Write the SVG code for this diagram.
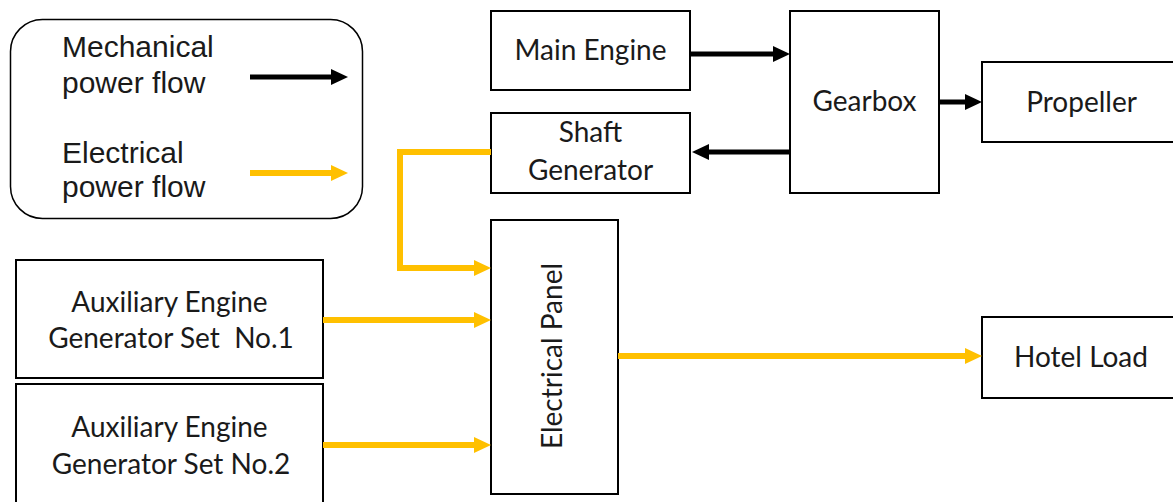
<svg xmlns="http://www.w3.org/2000/svg" width="1173" height="502" viewBox="0 0 1173 502">
  <style>
    .box { fill: #ffffff; stroke: #000000; stroke-width: 2; }
    .legend { fill: #ffffff; stroke: #000000; stroke-width: 1.5; }
    .lbl { font-family: Lato, "Liberation Sans", sans-serif; font-size: 28px; fill: #1a1a1a; text-anchor: middle; white-space: pre; }
    .leg { font-family: "Liberation Sans", Arial, sans-serif; font-size: 30px; fill: #1a1a1a; }
    .mech { fill: none; stroke: #000000; stroke-width: 5; }
    .elec { fill: none; stroke: #FFC000; stroke-width: 6; }
  </style>
  <defs>
    <marker id="headMech" markerUnits="userSpaceOnUse" markerWidth="18" markerHeight="18" refX="0" refY="8" orient="auto">
      <path d="M0,0 L17,8 L0,16 Z" fill="#000000"/>
    </marker>
    <marker id="headElec" markerUnits="userSpaceOnUse" markerWidth="18" markerHeight="18" refX="0" refY="8" orient="auto">
      <path d="M0,0 L17,8 L0,16 Z" fill="#FFC000"/>
    </marker>
  </defs>
  <rect width="1173" height="502" fill="#ffffff"/>

  <!-- legend -->
  <g id="legend">
    <rect class="legend" x="10.5" y="19.5" width="352" height="199" rx="32" ry="32"/>
    <text class="leg" x="62" y="57">Mechanical</text>
    <text class="leg" x="62" y="93">power flow</text>
    <text class="leg" x="62" y="163">Electrical</text>
    <text class="leg" x="62" y="197">power flow</text>
    <path class="mech" d="M250,77 H331" marker-end="url(#headMech)"/>
    <path class="elec" d="M250,173 H331" marker-end="url(#headElec)"/>
  </g>

  <!-- nodes -->
  <g id="main-engine">
    <rect class="box" x="491" y="11" width="199" height="79"/>
    <text class="lbl" x="590.5" y="60">Main Engine</text>
  </g>
  <g id="shaft-generator">
    <rect class="box" x="491" y="113" width="199" height="80"/>
    <text class="lbl" x="590.5" y="142">Shaft</text>
    <text class="lbl" x="590.5" y="180">Generator</text>
  </g>
  <g id="gearbox">
    <rect class="box" x="790" y="11" width="149" height="182"/>
    <text class="lbl" x="864.5" y="111">Gearbox</text>
  </g>
  <g id="propeller">
    <rect class="box" x="982" y="62" width="200" height="80"/>
    <text class="lbl" x="1081.5" y="112">Propeller</text>
  </g>
  <g id="electrical-panel">
    <rect class="box" x="491" y="220" width="127" height="274"/>
    <text class="lbl" transform="translate(562,356) rotate(-90)">Electrical Panel</text>
  </g>
  <g id="hotel-load">
    <rect class="box" x="982" y="317" width="200" height="81"/>
    <text class="lbl" x="1081" y="367">Hotel Load</text>
  </g>
  <g id="aux-gen-1">
    <rect class="box" x="16" y="260" width="307" height="118"/>
    <text class="lbl" x="169.5" y="312">Auxiliary Engine</text>
    <text class="lbl" x="171" y="348">Generator Set  No.1</text>
  </g>
  <g id="aux-gen-2">
    <rect class="box" x="16" y="384" width="307" height="130"/>
    <text class="lbl" x="169.5" y="437">Auxiliary Engine</text>
    <text class="lbl" x="171" y="474">Generator Set No.2</text>
  </g>

  <!-- connectors -->
  <g id="connectors">
    <path class="mech" d="M690,54 H773" marker-end="url(#headMech)"/>
    <path class="mech" d="M790,152 H709" marker-end="url(#headMech)"/>
    <path class="mech" d="M939,102 H965" marker-end="url(#headMech)"/>
    <path class="elec" d="M491,152 H400 V268 H474" marker-end="url(#headElec)"/>
    <path class="elec" d="M323,320 H474" marker-end="url(#headElec)"/>
    <path class="elec" d="M323,445 H474" marker-end="url(#headElec)"/>
    <path class="elec" d="M618,356 H965" marker-end="url(#headElec)"/>
  </g>
</svg>
